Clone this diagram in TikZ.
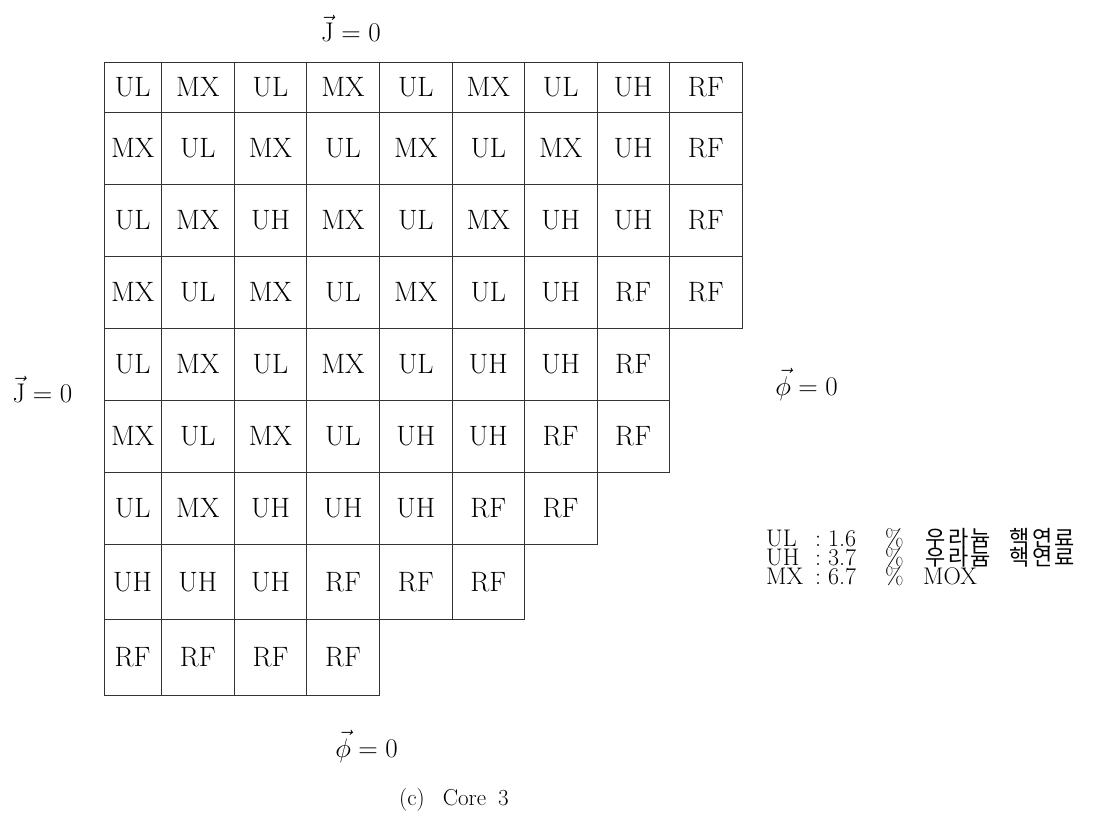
\RequirePackage{fix-cm}
\documentclass[tikz,border=0pt]{standalone}
\usepackage{fontspec}
\newfontfamily\kr[LetterSpace=12]{Noto Sans CJK KR}
\begin{document}
\begin{tikzpicture}[x=1pt,y=-1pt,
  cell/.style={draw=black!80, line width=1pt, inner sep=0pt, font=\fontsize{28}{30}\selectfont},
  lbl/.style={anchor=base, inner sep=0pt, font=\fontsize{27}{30}\selectfont},
  leg/.style={anchor=base west, inner sep=0pt, font=\fontsize{24}{19}\selectfont},
  capt/.style={anchor=base, inner sep=0pt, font=\fontsize{23}{25}\selectfont}]
\useasboundingbox (0,0) rectangle (1105,823);
\def\XE{{104,161.3,234.3,306.7,379.3,452.3,524.3,597,669.3,742.3}}
\def\YE{{62.7,112,184.3,256.3,328.3,400,472.3,544.3,619.3,695}}
\foreach \rowlist [count=\r from 0] in {
  {UL,MX,UL,MX,UL,MX,UL,UH,RF},
  {MX,UL,MX,UL,MX,UL,MX,UH,RF},
  {UL,MX,UH,MX,UL,MX,UH,UH,RF},
  {MX,UL,MX,UL,MX,UL,UH,RF,RF},
  {UL,MX,UL,MX,UL,UH,UH,RF},
  {MX,UL,MX,UL,UH,UH,RF,RF},
  {UL,MX,UH,UH,UH,RF,RF},
  {UH,UH,UH,RF,RF,RF},
  {RF,RF,RF,RF}} {
  \foreach \t [count=\c from 0] in \rowlist {
    \pgfmathsetmacro\xa{\XE[\c]}
    \pgfmathsetmacro\xb{\XE[\c+1]}
    \pgfmathsetmacro\ya{\YE[\r]}
    \pgfmathsetmacro\yb{\YE[\r+1]}
    \pgfmathsetmacro\w{\xb-\xa}
    \pgfmathsetmacro\h{\yb-\ya}
    \node[cell, minimum width=\w pt, minimum height=\h pt] (c-\r-\c) at ({(\xa+\xb)/2},{(\ya+\yb)/2}) {\t};
  }
}
\node[lbl] (jtop) at (351,41) {$\vec{\mathrm{J}}=0$};
\node[lbl] (jleft) at (42.5,402) {$\vec{\mathrm{J}}=0$};
\node[lbl] (phiright) at (806.5,395) {$\vec{\phi}=0$};
\node[lbl] (phibottom) at (366.5,757) {$\vec{\phi}=0$};
\node[leg] (l1) at (766,546) {\makebox[49pt][l]{UL}\makebox[13pt][l]{:}\makebox[57pt][l]{1.6}\makebox[40pt][l]{\%}{\kr\fontsize{22}{19}\selectfont 우라늄\hspace{18pt}핵연료}};
\node[leg] (l2) at (766,565) {\makebox[49pt][l]{UH}\makebox[13pt][l]{:}\makebox[57pt][l]{3.7}\makebox[40pt][l]{\%}{\kr\fontsize{22}{19}\selectfont 우라늄\hspace{18pt}핵연료}};
\node[leg] (l3) at (766,584) {\makebox[49pt][l]{MX}\makebox[13pt][l]{:}\makebox[57pt][l]{6.7}\makebox[38pt][l]{\%}MOX};
\node[capt] (caption) at (454,805) {(c)\hspace{18pt}Core\hspace{12pt}3};
\end{tikzpicture}
\end{document}
